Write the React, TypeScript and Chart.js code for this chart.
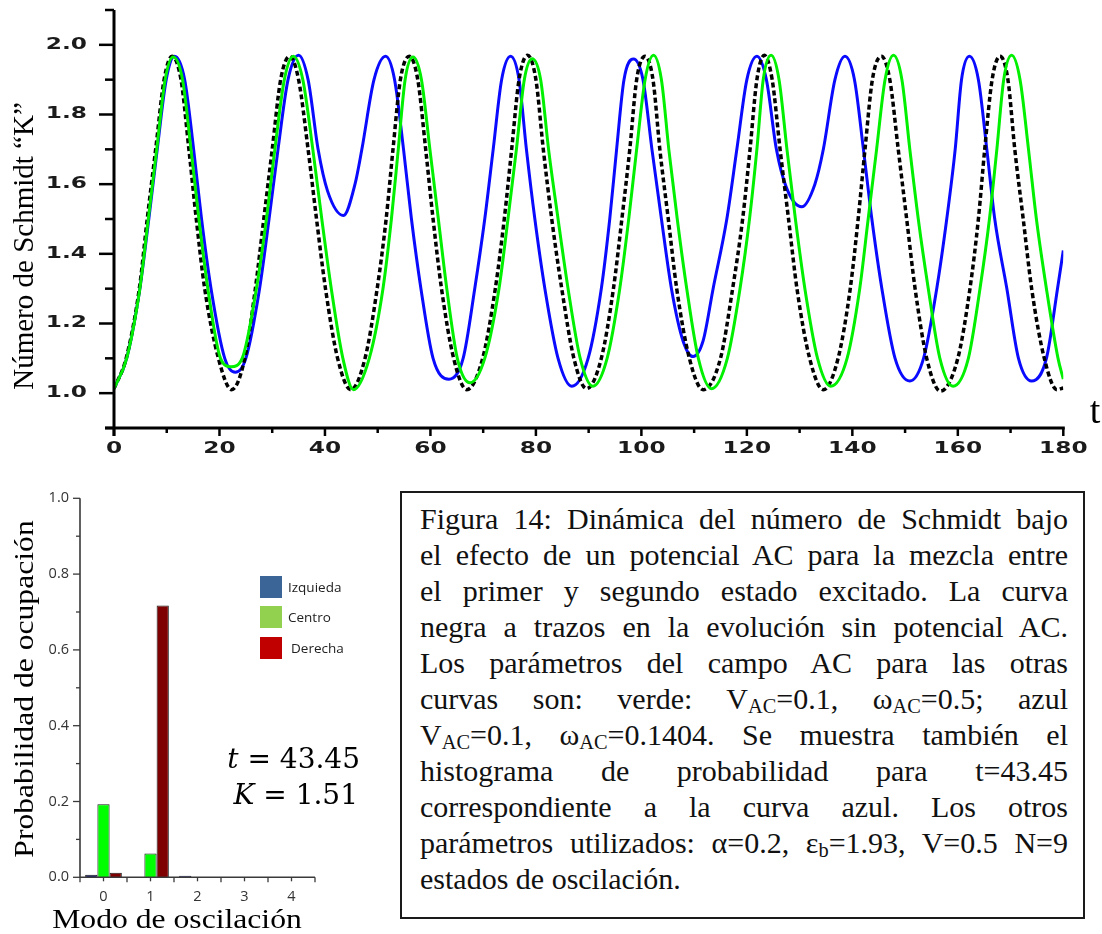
import React, { useEffect, useRef } from 'react';
import { Chart, registerables } from 'chart.js';

Chart.register(...registerables);

// Número de Schmidt K(t) — curva azul (V_AC=0.1, ω_AC=0.1404)
const blueT = [0, 2.4, 4.9, 6.6, 8.2, 9.9, 11.5, 13.4, 15.1, 16.6, 18.4, 21.0, 23.0, 25.0, 27.6, 29.4, 31.1, 33.0, 35.0, 36.8, 38.7, 40.5, 43.5, 45.7, 47.0, 49.3, 51.5, 53.2, 54.9, 56.4, 58.2, 60.5, 63.5, 66.2, 68.4, 70.3, 71.9, 73.5, 75.2, 76.8, 78.2, 79.8, 81.7, 84.2, 86.8, 89.9, 92.4, 94.0, 95.3, 96.7, 98.5, 100.3, 102.0, 103.8, 105.7, 107.9, 109.8, 111.7, 113.6, 116.2, 118.1, 120.0, 121.9, 123.7, 125.6, 127.5, 130.4, 132.9, 134.5, 136.7, 138.6, 140.4, 142.1, 143.7, 145.6, 148.1, 150.9, 153.5, 156.0, 157.9, 159.5, 160.7, 162.2, 163.9, 165.5, 167.0, 169.3, 171.5, 174.0, 176.8, 178.9, 180];
const blueK = [1.013, 1.1, 1.3, 1.5, 1.7, 1.9, 1.967, 1.9, 1.7, 1.5, 1.3, 1.1, 1.06, 1.1, 1.3, 1.5, 1.7, 1.9, 1.97, 1.9, 1.7, 1.58, 1.51, 1.6, 1.7, 1.9, 1.967, 1.9, 1.7, 1.5, 1.3, 1.1, 1.04, 1.1, 1.3, 1.5, 1.7, 1.9, 1.967, 1.9, 1.7, 1.5, 1.3, 1.1, 1.02, 1.1, 1.3, 1.5, 1.7, 1.9, 1.959, 1.9, 1.7, 1.5, 1.3, 1.15, 1.105, 1.15, 1.3, 1.5, 1.7, 1.9, 1.967, 1.9, 1.7, 1.59, 1.535, 1.6, 1.7, 1.9, 1.967, 1.9, 1.7, 1.5, 1.3, 1.1, 1.035, 1.1, 1.3, 1.5, 1.7, 1.9, 1.967, 1.9, 1.7, 1.5, 1.3, 1.1, 1.035, 1.1, 1.3, 1.41];

// curva verde (V_AC=0.1, ω_AC=0.5)
const greenT = [0, 2.4, 4.9, 6.5, 8.1, 9.7, 11.2, 13.0, 14.6, 16.1, 17.8, 20.2, 22.2, 24.3, 27.0, 28.9, 30.5, 32.3, 34.0, 35.8, 37.7, 39.4, 41.2, 43.4, 45.4, 48.4, 51.0, 52.6, 53.9, 55.2, 56.7, 58.3, 59.9, 61.5, 63.1, 65.1, 67.5, 70.3, 73.0, 74.7, 76.3, 77.8, 79.3, 80.9, 82.4, 84.2, 86.1, 88.4, 90.8, 93.5, 95.9, 97.6, 99.1, 100.7, 102.3, 103.8, 105.2, 106.8, 108.6, 110.8, 113.3, 116.3, 118.7, 120.5, 121.9, 123.1, 124.6, 126.1, 127.6, 129.2, 131.0, 133.4, 135.9, 139.0, 141.4, 143.0, 144.6, 146.2, 147.8, 149.4, 150.9, 152.5, 154.4, 156.6, 159.1, 162.0, 164.2, 166.0, 167.4, 168.7, 170.2, 171.8, 173.4, 174.9, 176.8, 179.0, 180];
const greenK = [1.013, 1.1, 1.3, 1.5, 1.7, 1.9, 1.965, 1.9, 1.7, 1.5, 1.3, 1.1, 1.076, 1.1, 1.3, 1.5, 1.7, 1.9, 1.967, 1.9, 1.7, 1.5, 1.3, 1.1, 1.01, 1.1, 1.3, 1.5, 1.7, 1.9, 1.965, 1.9, 1.7, 1.5, 1.3, 1.1, 1.03, 1.1, 1.3, 1.5, 1.7, 1.9, 1.96, 1.9, 1.7, 1.5, 1.3, 1.1, 1.02, 1.1, 1.3, 1.5, 1.7, 1.9, 1.97, 1.9, 1.7, 1.5, 1.3, 1.1, 1.013, 1.1, 1.3, 1.5, 1.7, 1.9, 1.97, 1.9, 1.7, 1.5, 1.3, 1.1, 1.02, 1.1, 1.3, 1.5, 1.7, 1.9, 1.97, 1.9, 1.7, 1.5, 1.3, 1.1, 1.02, 1.1, 1.3, 1.5, 1.7, 1.9, 1.97, 1.9, 1.7, 1.5, 1.3, 1.1, 1.04];

// curva negra a trazos (sin potencial AC)
const blackT = [0, 2.3, 4.8, 6.3, 7.9, 9.5, 11.0, 12.7, 14.2, 15.6, 17.2, 19.8, 22.3, 24.8, 26.8, 28.4, 30.0, 31.6, 33.3, 35.0, 36.8, 38.4, 40.1, 42.4, 44.9, 47.6, 49.9, 51.6, 52.9, 54.3, 56.0, 57.6, 59.1, 60.5, 62.1, 64.4, 66.9, 69.9, 72.3, 74.0, 75.4, 76.8, 78.4, 80.0, 81.4, 83.0, 84.9, 87.2, 89.6, 92.4, 94.7, 96.3, 97.8, 99.1, 100.7, 102.2, 103.5, 105.1, 106.7, 109.1, 111.7, 115.0, 117.3, 119.2, 120.6, 121.9, 123.3, 124.8, 126.3, 127.9, 129.5, 131.9, 134.5, 137.3, 139.6, 141.1, 142.4, 143.8, 145.5, 147.1, 148.7, 150.3, 151.9, 154.1, 156.7, 160.0, 162.3, 163.9, 165.1, 166.5, 168.0, 169.5, 170.8, 172.4, 174.0, 176.4, 178.8, 180];
const blackK = [1.013, 1.1, 1.3, 1.5, 1.7, 1.9, 1.967, 1.9, 1.7, 1.5, 1.3, 1.1, 1.01, 1.1, 1.3, 1.5, 1.7, 1.9, 1.967, 1.9, 1.7, 1.5, 1.3, 1.1, 1.01, 1.1, 1.3, 1.5, 1.7, 1.9, 1.967, 1.9, 1.7, 1.5, 1.3, 1.1, 1.01, 1.1, 1.3, 1.5, 1.7, 1.9, 1.97, 1.9, 1.7, 1.5, 1.3, 1.1, 1.013, 1.1, 1.3, 1.5, 1.7, 1.9, 1.967, 1.9, 1.7, 1.5, 1.3, 1.1, 1.01, 1.1, 1.3, 1.5, 1.7, 1.9, 1.97, 1.9, 1.7, 1.5, 1.3, 1.1, 1.01, 1.1, 1.3, 1.5, 1.7, 1.9, 1.967, 1.9, 1.7, 1.5, 1.3, 1.1, 1.006, 1.1, 1.3, 1.5, 1.7, 1.9, 1.967, 1.9, 1.7, 1.5, 1.3, 1.1, 1.01, 1.015];

const tTicks = [0, 20, 40, 60, 80, 100, 120, 140, 160, 180];
const kTicks = [1.0, 1.2, 1.4, 1.6, 1.8, 2.0];
const kMin = 0.9;
const kMax = 2.1;

// Histograma de probabilidad para t = 43.45 (curva azul)
const modes = ['0', '1', '2', '3', '4'];
const probIzquierda = [0.007, 0, 0.004, 0, 0];
const probCentro = [0.193, 0.063, 0, 0, 0];
const probDerecha = [0.012, 0.717, 0, 0, 0];
const probTicks = [0, 0.2, 0.4, 0.6, 0.8, 1.0];
const legendItems = [
  { label: 'Izquieda', color: '#3b6497', x: 288, y: 587 },
  { label: 'Centro', color: '#92d050', x: 288, y: 617 },
  { label: 'Derecha', color: '#c00000', x: 291, y: 648 },
];

const captionLines = [
  'Figura 14: Dinámica del número de Schmidt bajo',
  'el efecto de un potencial AC para la mezcla entre',
  'el primer y segundo estado excitado. La curva',
  'negra a trazos en la evolución sin potencial AC.',
  'Los parámetros del campo AC para las otras',
  'curvas son: verde: V_{AC}=0.1, ω_{AC}=0.5; azul',
  'V_{AC}=0.1, ω_{AC}=0.1404. Se muestra también el',
  'histograma de probabilidad para t=43.45',
  'correspondiente a la curva azul. Los otros',
  'parámetros utilizados: α=0.2, ε_{b}=1.93, V=0.5 N=9',
  'estados de oscilación.',
];

const zip = (xs: number[], ys: number[]) => xs.map((x, i) => ({ x, y: ys[i] }));
const fmt = (v: number) => v.toFixed(1);

const topAxesPlugin = {
  id: 'topAxes',
  afterDraw(chart: any) {
    const { ctx } = chart;
    const xs = chart.scales.x;
    const ys = chart.scales.y;
    const X = (v: number) => xs.getPixelForValue(v);
    const Y = (v: number) => ys.getPixelForValue(v);
    const x0 = X(tTicks[0]);
    const x1 = X(tTicks[tTicks.length - 1]);
    const yb = Y(kMin);
    const yt = Y(kMax);
    ctx.save();
    ctx.strokeStyle = '#000';
    ctx.lineWidth = 3;
    ctx.beginPath();
    ctx.moveTo(x0, yt);
    ctx.lineTo(x0, yb + 8);
    ctx.stroke();
    ctx.beginPath();
    ctx.moveTo(x0 - 9, yb);
    ctx.lineTo(x1 + 1.5, yb);
    ctx.stroke();

    // y ticks: labelled majors, minors half-way
    ctx.lineWidth = 2.5;
    const yMinor: number[] = [kMin];
    kTicks.forEach((v) => yMinor.push(+(v + 0.1).toFixed(2)));
    kTicks.forEach((v) => {
      ctx.beginPath();
      ctx.moveTo(x0 - 15, Y(v));
      ctx.lineTo(x0, Y(v));
      ctx.stroke();
    });
    yMinor.forEach((v) => {
      ctx.beginPath();
      ctx.moveTo(x0 - 9, Y(v));
      ctx.lineTo(x0, Y(v));
      ctx.stroke();
    });
    // x ticks
    tTicks.forEach((v, i) => {
      ctx.beginPath();
      ctx.moveTo(X(v), yb);
      ctx.lineTo(X(v), yb + 8);
      ctx.stroke();
      if (i < tTicks.length - 1) {
        const m = (v + tTicks[i + 1]) / 2;
        ctx.beginPath();
        ctx.moveTo(X(m), yb);
        ctx.lineTo(X(m), yb + 5);
        ctx.stroke();
      }
    });

    // tick labels (wide bold digits)
    ctx.fillStyle = '#1b1b1b';
    ctx.font = 'bold 15px "DejaVu Sans"';
    ctx.textBaseline = 'middle';
    kTicks.forEach((v) => {
      ctx.save();
      ctx.translate(x0 - 27, Y(v));
      ctx.scale(1.55, 1);
      ctx.textAlign = 'right';
      ctx.fillText(fmt(v), 0, 0);
      ctx.restore();
    });
    tTicks.forEach((v) => {
      ctx.save();
      ctx.translate(X(v), yb + 21);
      ctx.scale(1.55, 1);
      ctx.textAlign = 'center';
      ctx.fillText(String(v), 0, 0);
      ctx.restore();
    });

    // axis titles
    ctx.fillStyle = '#000';
    ctx.textBaseline = 'alphabetic';
    ctx.save();
    ctx.translate(33, 246);
    ctx.rotate(-Math.PI / 2);
    ctx.textAlign = 'center';
    ctx.font = '29px "Liberation Serif"';
    ctx.fillText('Número de Schmidt “K”', 0, 0);
    ctx.restore();
    ctx.font = '38px "Liberation Serif"';
    ctx.textAlign = 'center';
    ctx.fillText('t', 1095, 423);
    ctx.restore();
  },
};

const barAxesPlugin = {
  id: 'barAxes',
  afterDraw(chart: any) {
    const { ctx, chartArea } = chart;
    const xs = chart.scales.x;
    const ys = chart.scales.y;
    const Y = (v: number) => ys.getPixelForValue(v);
    const left = chartArea.left;
    const right = chartArea.right;
    const bottom = Y(0);
    ctx.save();
    ctx.strokeStyle = '#3a3a3a';
    ctx.lineWidth = 1.6;
    ctx.beginPath();
    ctx.moveTo(left, Y(1));
    ctx.lineTo(left, bottom);
    ctx.lineTo(right, bottom);
    ctx.stroke();
    ctx.lineWidth = 1.3;
    probTicks.forEach((v, i) => {
      ctx.beginPath();
      ctx.moveTo(left - 7, Y(v));
      ctx.lineTo(left, Y(v));
      ctx.stroke();
      if (i < probTicks.length - 1) {
        const m = (v + probTicks[i + 1]) / 2;
        ctx.beginPath();
        ctx.moveTo(left - 4, Y(m));
        ctx.lineTo(left, Y(m));
        ctx.stroke();
      }
    });
    const w = (right - left) / modes.length;
    for (let k = 0; k <= modes.length; k++) {
      ctx.beginPath();
      ctx.moveTo(left + k * w, bottom);
      ctx.lineTo(left + k * w, bottom + 5);
      ctx.stroke();
    }
    modes.forEach((_, i) => {
      const px = xs.getPixelForValue(i);
      ctx.beginPath();
      ctx.moveTo(px, bottom);
      ctx.lineTo(px, bottom + 4);
      ctx.stroke();
    });

    ctx.fillStyle = '#333';
    ctx.font = '14.5px "Open Sans"';
    ctx.textBaseline = 'middle';
    ctx.textAlign = 'right';
    probTicks.forEach((v) => ctx.fillText(fmt(v), left - 11, Y(v)));
    ctx.textAlign = 'center';
    modes.forEach((m, i) => ctx.fillText(m, xs.getPixelForValue(i), bottom + 20));

    // axis titles
    ctx.fillStyle = '#000';
    ctx.textBaseline = 'alphabetic';
    ctx.font = '28px "Liberation Serif"';
    ctx.save();
    ctx.translate(33, 219);
    ctx.rotate(-Math.PI / 2);
    ctx.scale(1.13, 1);
    ctx.textAlign = 'center';
    ctx.fillText('Probabilidad de ocupación', 0, 0);
    ctx.restore();
    ctx.save();
    ctx.translate(177, 458);
    ctx.scale(1.13, 1);
    ctx.textAlign = 'center';
    ctx.fillText('Modo de oscilación', 0, 0);
    ctx.restore();

    // state of the blue curve at the histogram time
    const drawMath = (sym: string, rest: string, rightX: number, base: number) => {
      ctx.font = 'italic 28px "DejaVu Serif"';
      const w1 = ctx.measureText(sym).width;
      ctx.font = '28px "DejaVu Serif"';
      const w2 = ctx.measureText(rest).width;
      ctx.textAlign = 'left';
      ctx.font = 'italic 28px "DejaVu Serif"';
      ctx.fillText(sym, rightX - w1 - w2, base);
      ctx.font = '28px "DejaVu Serif"';
      ctx.fillText(rest, rightX - w2, base);
    };
    drawMath('t', ' = 43.45', 360, 298);
    drawMath('K', ' = 1.51', 358, 334);
    ctx.restore();
  },
};

function renderCaptionLine(line: string) {
  const parts = line.split(/_\{([^}]*)\}/);
  return parts.map((p, i) =>
    i % 2 === 1 ? (
      <sub key={i} style={{ fontSize: '0.68em', verticalAlign: '-0.22em', lineHeight: 0 }}>{p}</sub>
    ) : (
      <React.Fragment key={i}>{p}</React.Fragment>
    )
  );
}

export default function App() {
  const topRef = useRef<HTMLCanvasElement | null>(null);
  const barRef = useRef<HTMLCanvasElement | null>(null);

  useEffect(() => {
    if (!topRef.current || !barRef.current) return;
    const top = new Chart(topRef.current, {
      type: 'line',
      data: {
        datasets: [
          {
            label: 'azul',
            data: zip(blueT, blueK),
            borderColor: '#0a0aff',
            borderWidth: 3,
            pointRadius: 0,
            cubicInterpolationMode: 'monotone',
            order: 3,
          },
          {
            label: 'sin AC',
            data: zip(blackT, blackK),
            borderColor: '#000',
            borderWidth: 3.5,
            borderDash: [5, 3],
            pointRadius: 0,
            cubicInterpolationMode: 'monotone',
            order: 2,
          },
          {
            label: 'verde',
            data: zip(greenT, greenK),
            borderColor: '#00f000',
            borderWidth: 3,
            pointRadius: 0,
            cubicInterpolationMode: 'monotone',
            order: 1,
          },
        ],
      } as any,
      options: {
        animation: false,
        responsive: false,
        layout: { padding: { left: 114, right: 38.7, top: 10, bottom: 42 } },
        scales: {
          x: { type: 'linear', min: tTicks[0], max: tTicks[tTicks.length - 1], display: false },
          y: { type: 'linear', min: kMin, max: kMax, display: false },
        },
        plugins: { legend: { display: false }, tooltip: { enabled: false } },
      },
      plugins: [topAxesPlugin],
    });

    const bars = new Chart(barRef.current, {
      type: 'bar',
      data: {
        labels: modes,
        datasets: [
          { label: 'Izquieda', data: probIzquierda, backgroundColor: '#1d237f' },
          { label: 'Centro', data: probCentro, backgroundColor: '#00ff00' },
          { label: 'Derecha', data: probDerecha, backgroundColor: '#7f0000' },
        ].map((d) => ({
          ...d,
          borderColor: '#1a1a1a',
          borderWidth: (c: any) => (c.raw > 0 ? 1 : 0),
          categoryPercentage: 0.78,
          barPercentage: 1,
        })),
      } as any,
      options: {
        animation: false,
        responsive: false,
        layout: { padding: { left: 80, right: 65, top: 28.3, bottom: 56.7 } },
        scales: {
          x: { display: false, offset: true },
          y: { display: false, min: 0, max: 1 },
        },
        plugins: { legend: { display: false }, tooltip: { enabled: false } },
      },
      plugins: [barAxesPlugin],
    });

    return () => {
      top.destroy();
      bars.destroy();
    };
  }, []);

  return (
    <div style={{ position: 'absolute', left: 0, top: 0, width: 1102, height: 934, background: '#fff', overflow: 'hidden' }}>
      <canvas ref={topRef} width={1102} height={470} style={{ position: 'absolute', left: 0, top: 0, width: 1102, height: 470 }} />
      <canvas ref={barRef} width={380} height={464} style={{ position: 'absolute', left: 0, top: 470, width: 380, height: 464 }} />
      {legendItems.map((it) => (
        <React.Fragment key={it.label}>
          <div style={{ position: 'absolute', left: 260, top: it.y - 11, width: 22, height: 22, background: it.color }} />
          <div
            style={{
              position: 'absolute',
              left: it.x,
              top: it.y - 10,
              height: 20,
              lineHeight: '20px',
              fontFamily: '"Open Sans", sans-serif',
              fontSize: 13.5,
              color: '#222',
              whiteSpace: 'nowrap',
            }}
          >
            {it.label}
          </div>
        </React.Fragment>
      ))}
      <div
        style={{
          position: 'absolute',
          left: 400,
          top: 491,
          width: 681,
          height: 424,
          border: '2px solid #1a1a1a',
        }}
      />
      <div
        style={{
          position: 'absolute',
          left: 420,
          top: 501,
          width: 648,
          fontFamily: '"Liberation Serif", serif',
          fontSize: 30,
          lineHeight: '36px',
          color: '#111',
        }}
      >
        {captionLines.map((line, i) => (
          <div
            key={i}
            style={{
              textAlign: i === captionLines.length - 1 ? 'left' : 'justify',
              textAlignLast: i === captionLines.length - 1 ? 'left' : 'justify',
              height: 36,
              overflow: 'visible',
            }}
          >
            {renderCaptionLine(line)}
          </div>
        ))}
      </div>
    </div>
  );
}
